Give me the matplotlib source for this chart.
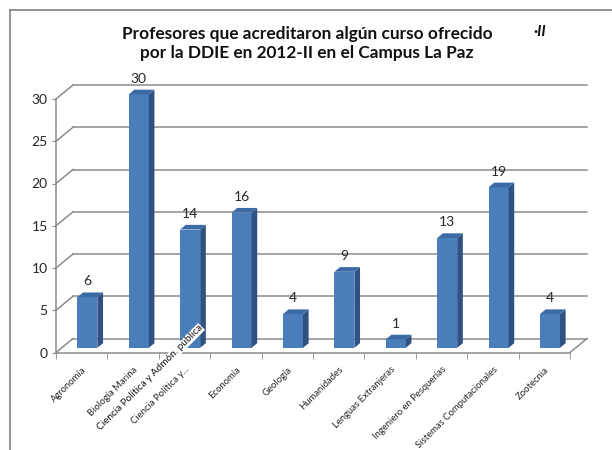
import numpy as np
import matplotlib
matplotlib.use("Agg")
import matplotlib.pyplot as plt
from matplotlib.patches import Polygon
from matplotlib.lines import Line2D

plt.rcParams['font.family'] = ['Lato', 'DejaVu Sans']

# data
categorias = ["Agronomía", "Biología Marina", "Ciencia Política y...", "Economía",
              "Geología", "Humanidades", "Lenguas Extranjeras",
              "Ingeniero en Pesquerías", "Sistemas Computacionales", "Zootecnia"]
profesores = [6, 30, 14, 16, 4, 9, 1, 13, 19, 4]
yticks = [0, 5, 10, 15, 20, 25, 30]
titulo = "Profesores que acreditaron algún curso ofrecido\npor la DDIE en 2012-II en el Campus La Paz"
etiqueta_extra = "Ciencia Política y Admón. pública"

W, H = 612, 450
fig = plt.figure(figsize=(6.12, 4.5), dpi=100)

# front plane of the 3d box, in pixels
x0, x1 = 56, 570
y0, ytop = 352.5, 99
ax = fig.add_axes([x0 / W, (H - y0) / H, (x1 - x0) / W, (y0 - ytop) / H])
ax.set_xlim(-0.5, 9.5)
ax.set_ylim(0, 30)

ux = 10 / (x1 - x0)          # data units per pixel
uy = 30 / (y0 - ytop)
dxb, dyb = 17 * ux, 14 * uy  # depth of the box
grid_c = "#8c8c8c"

# back wall + side wall grid
for v in yticks:
    ax.plot([-0.5 + dxb, 9.5 + dxb], [v + dyb, v + dyb], color=grid_c, lw=1.1, clip_on=False, zorder=1)
    ax.plot([-0.5, -0.5 + dxb], [v, v + dyb], color=grid_c, lw=1.1, clip_on=False, zorder=1)
ax.plot([9.5, 9.5 + dxb], [0, dyb], color=grid_c, lw=1.1, clip_on=False, zorder=1)

# 3d bars
bw = 20 * ux
ox, oy = dxb / 3, dyb / 3
front_c, side_c, top_c = "#4a7ebb", "#2f5283", "#3c6aa4"
for i, v in enumerate(profesores):
    xl = i - bw / 2 + ox
    xr = i + bw / 2 + ox
    yb = oy
    yt = v + oy
    ax.add_patch(Polygon([(xl, yb), (xr, yb), (xr, yt), (xl, yt)], closed=True,
                         fc=front_c, ec="none", clip_on=False, zorder=3))
    ax.add_patch(Polygon([(xr, yb), (xr + ox, yb + oy), (xr + ox, yt + oy), (xr, yt)], closed=True,
                         fc=side_c, ec="none", clip_on=False, zorder=3))
    ax.add_patch(Polygon([(xl, yt), (xr, yt), (xr + ox, yt + oy), (xl + ox, yt + oy)], closed=True,
                         fc=top_c, ec="none", clip_on=False, zorder=3))
    ax.text(i + ox, v + 2 * oy + 11 * uy, str(v), ha="center", va="center",
            fontsize=10, color="#262626", zorder=4)

# axes styling
for s in ["top", "right"]:
    ax.spines[s].set_visible(False)
for s in ["left", "bottom"]:
    ax.spines[s].set_color(grid_c)
    ax.spines[s].set_linewidth(1.1)
ax.set_yticks(yticks)
ax.tick_params(axis="y", direction="out", length=3, color=grid_c, labelsize=10,
               labelcolor="#262626", pad=3)
ax.set_xticks(np.arange(len(categorias)))
ax.set_xticklabels(categorias, rotation=45, ha="right", rotation_mode="anchor",
                   fontsize=6.8, color="#262626")
ax.tick_params(axis="x", which="major", length=0, pad=9)
ax.set_xticks(np.arange(-0.5, len(categorias)), minor=True)
ax.tick_params(axis="x", which="minor", direction="out", length=4, color=grid_c)
ax.patch.set_visible(False)

# stray overlapping label
fig.text(150 / W, 1 - 378 / H, etiqueta_extra, rotation=45, ha="center", va="center",
         fontsize=7.2, color="#111111",
         bbox=dict(fc="white", ec="none", pad=0.3), zorder=10)

# title
fig.text(307 / W, 1 - 43.5 / H, titulo, ha="center", va="center", fontsize=12.4,
         fontweight="bold", color="#111111", linespacing=1.2)
fig.text(540 / W, 1 - 32 / H, "·II", ha="center", va="center", fontsize=11,
         fontweight="bold", style="italic", color="#111111")

# chart area border
fig.add_artist(Line2D([9.5 / W, 1], [1 - 9.5 / H, 1 - 9.5 / H], color="#8a8a8a", lw=1.3))
fig.add_artist(Line2D([9.5 / W, 9.5 / W], [0, 1 - 9.5 / H], color="#8a8a8a", lw=1.3))

fig.savefig("out.png", dpi=100)
